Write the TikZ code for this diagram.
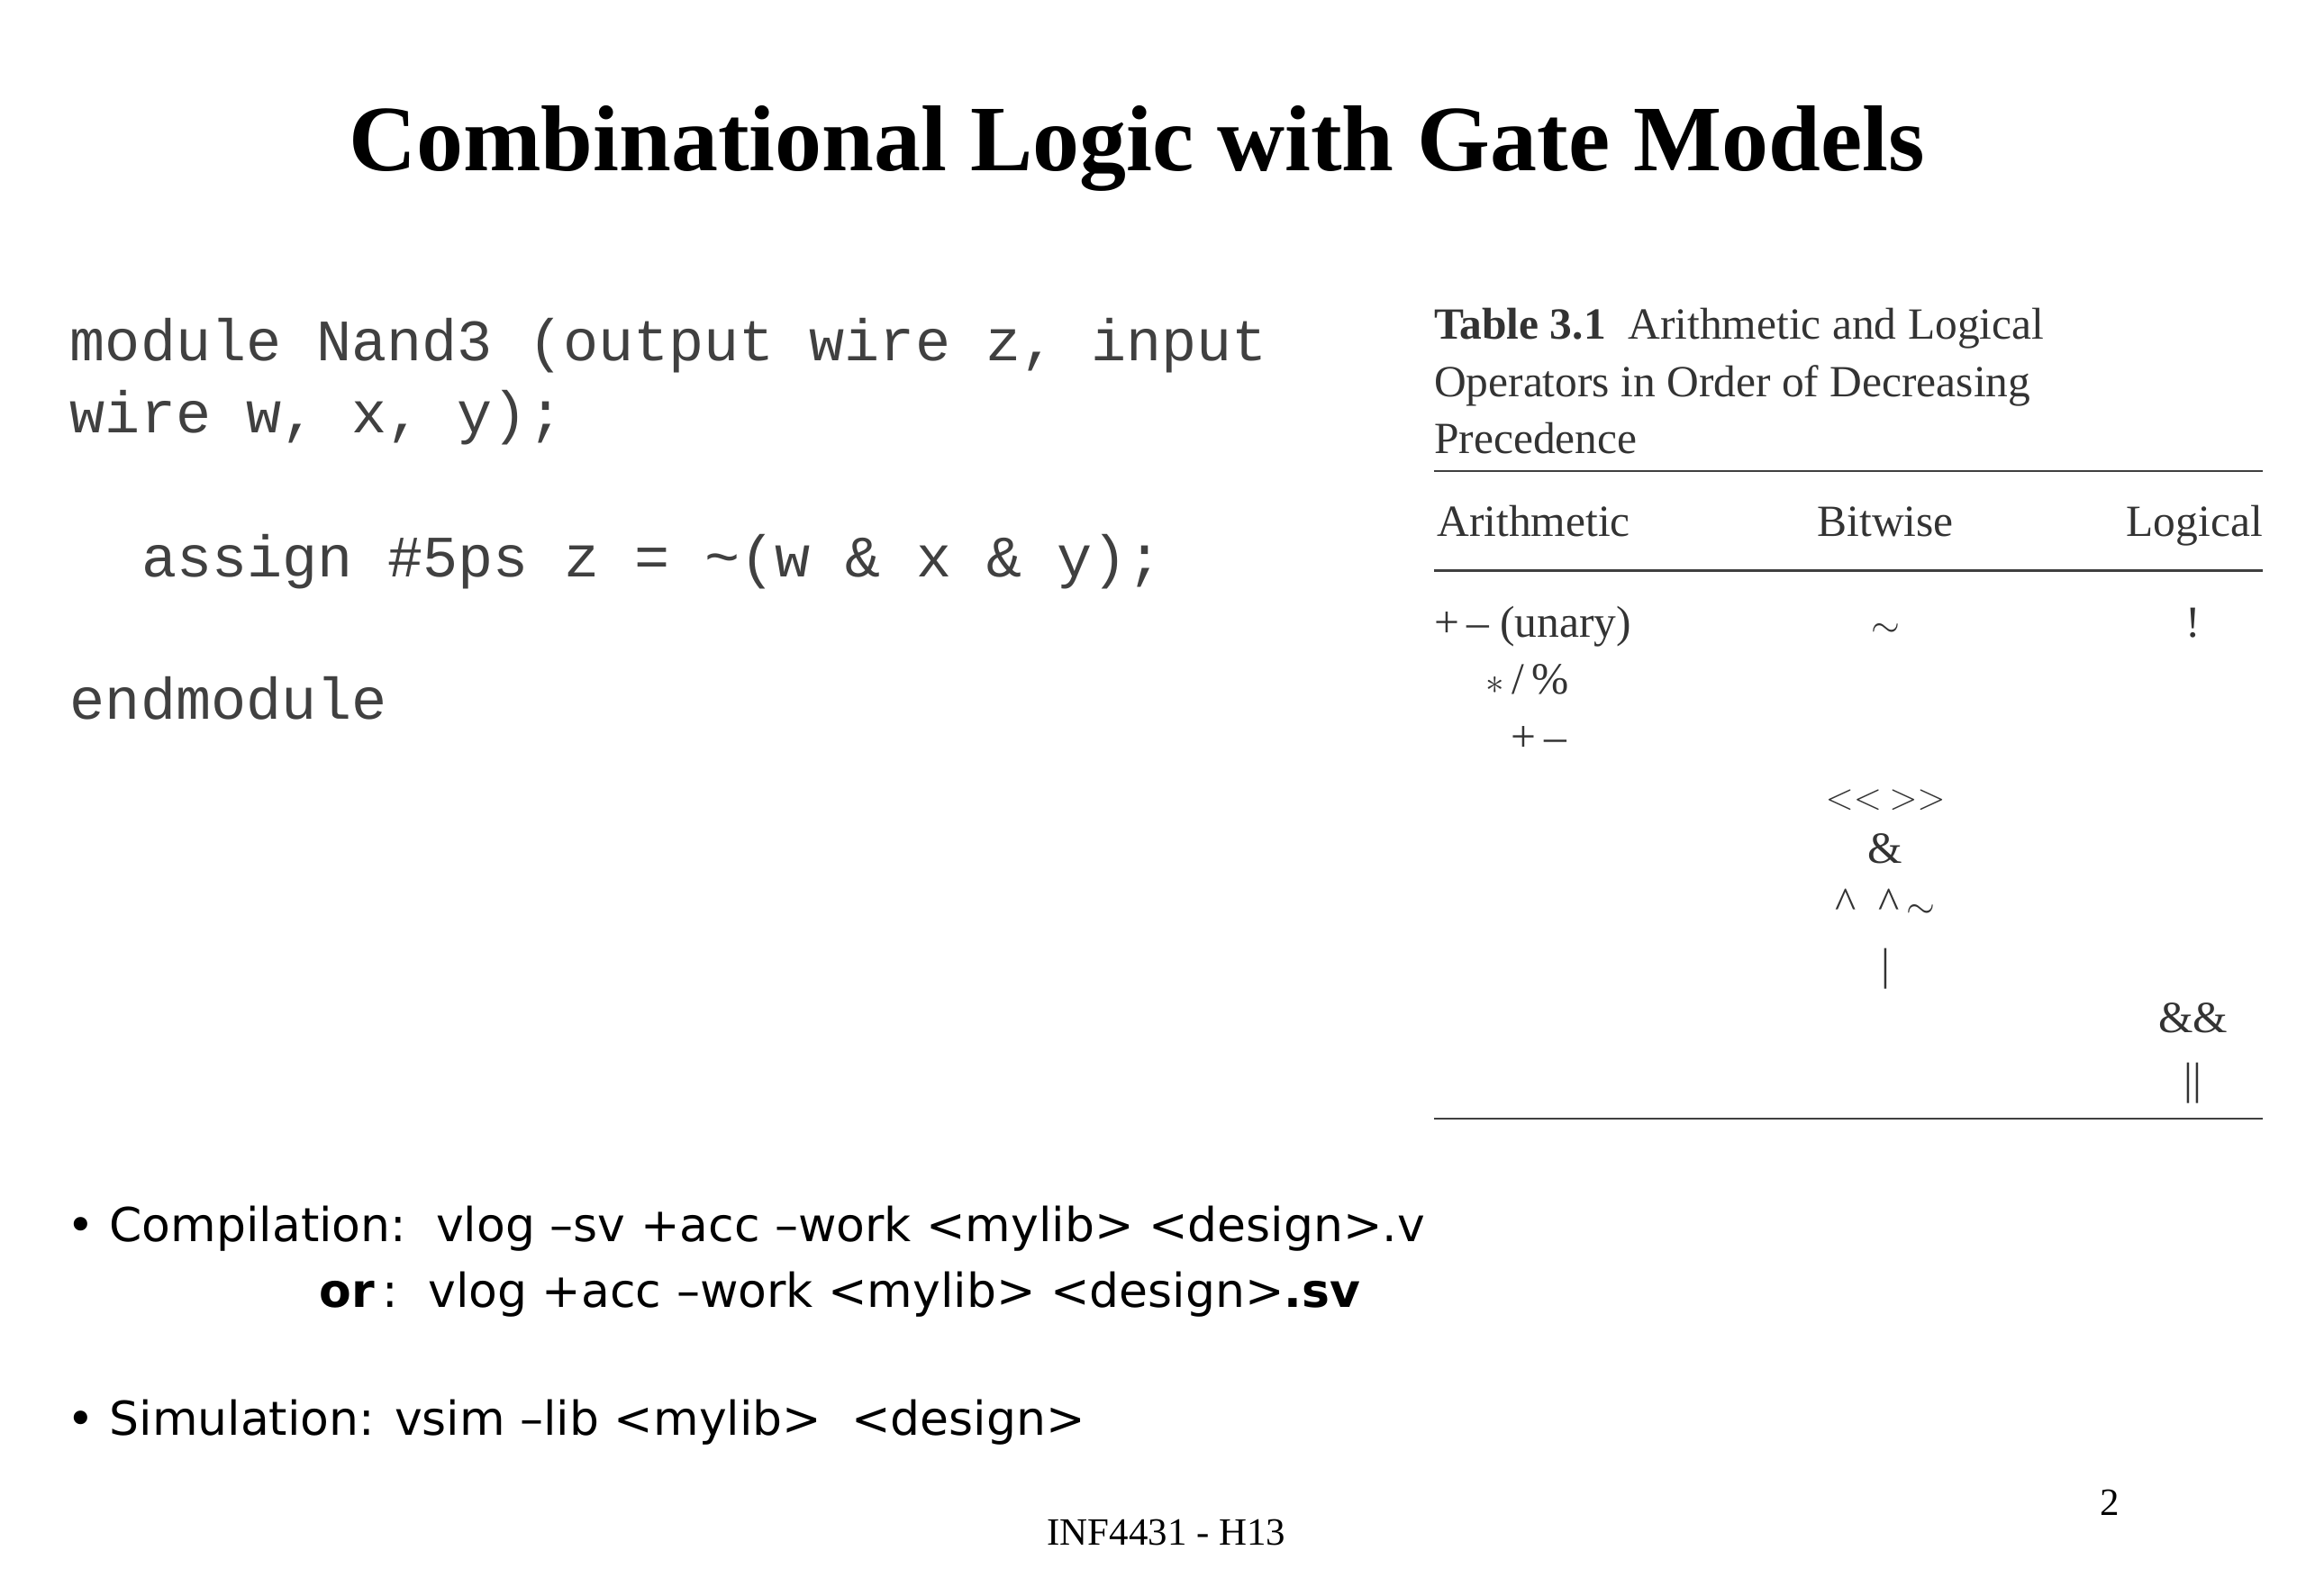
\documentclass[tikz,border=0pt]{standalone}
\usepackage{fontspec}
\setmainfont{Liberation Serif}
\setmonofont{Liberation Mono}
\setsansfont{DejaVu Sans}
\begin{document}
\begin{tikzpicture}[x=1pt,y=-1pt,
  code/.style={anchor=base west,inner sep=0pt,font=\fontsize{39.5}{40}\selectfont\ttfamily,text=black!75},
  tab/.style={anchor=base,inner sep=0pt,font=\fontsize{30}{32}\selectfont,text=black!80},
  bul/.style={anchor=base west,inner sep=0pt,font=\fontsize{31.5}{36}\selectfont\sffamily}]
\useasboundingbox (0,0) rectangle (1552,1074);
\node[inner sep=0pt,anchor=base,font=\fontsize{63}{64}\selectfont\bfseries] (title) at (765,115) {Combinational Logic with Gate Models};
\node[code] (c1) at (47,243) {module Nand3 (output wire z, input};
\node[code] (c2) at (47,291) {wire w, x, y);};
\node[code] (c3) at (95,388) {assign \#5ps z = \textasciitilde(w \& x \& y);};
\node[code] (c4) at (47,484) {endmodule};
\begin{scope}[shift={(-10,-4)}]
\node[tab,anchor=base west] (t1) at (975,232) {\textbf{Table 3.1}\ \ Arithmetic and Logical};
\node[tab,anchor=base west] (t2) at (975,271) {Operators in Order of Decreasing};
\node[tab,anchor=base west] (t3) at (975,309) {Precedence};
\draw[black!75,line width=1.5] (975,321) -- (1533,321);
\node[tab,anchor=base west] (h1) at (977,365) {Arithmetic};
\node[tab] (h2) at (1279,365) {Bitwise};
\node[tab,anchor=base east] (h3) at (1533,365) {Logical};
\draw[black!75,line width=1.5] (975,388) -- (1533,388);
\node[tab,anchor=base west] (a1) at (975,433) {+\,– (unary)};
\node[tab,anchor=base west] (a2) at (1010,471) {$*$\,/\,\%};
\node[tab,anchor=base west] (a3) at (1027,510) {+\,–};
\node[tab] (b1) at (1279,433) {$\sim$};
\node[tab] (l1) at (1486,433) {!};
\node[tab] (b2) at (1279,549) {$<<$\,$>>$};
\node[tab] (b3) at (1279,585) {\&};
\node[tab] (b4) at (1279,622) {\^{}\ \ \^{}\,$\sim$};
\node[tab] (b5) at (1279,663) {|};
\node[tab] (l2) at (1486,699) {\&\&};
\node[tab] (l3) at (1486,740) {||};
\draw[black!75,line width=1.5] (975,757) -- (1533,757);
\end{scope}
\node[bul] (p1) at (45,836) {•\ Compilation:\ \ vlog –sv +acc –work <mylib> <design>.v};
\node[bul] (p2) at (215,880) {\textbf{or}\,:\ \ vlog +acc –work <mylib> <design>\textbf{.sv}};
\node[bul] (p3) at (45,966) {•\ Simulation: vsim –lib <mylib>\ \ <design>};
\node[inner sep=0pt,anchor=base,font=\fontsize{26}{28}\selectfont] (f) at (785,1040) {INF4431 - H13};
\node[inner sep=0pt,anchor=base,font=\fontsize{26}{28}\selectfont] (n) at (1420,1020) {2};
\end{tikzpicture}
\end{document}
